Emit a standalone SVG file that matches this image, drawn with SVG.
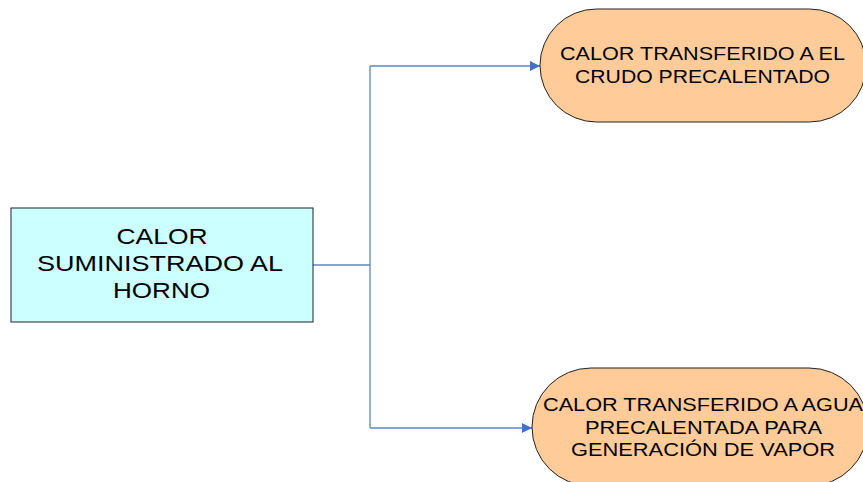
<svg xmlns="http://www.w3.org/2000/svg" width="863" height="482" viewBox="0 0 863 482">
  <style>
    .lbl { font-family: "Liberation Sans", Arial, sans-serif; fill: #000; text-anchor: middle; }
    .box { stroke: #222; stroke-width: 1; }
    .wire { fill: none; stroke: #5B84C8; stroke-width: 1.3; }
  </style>
  <defs>
    <marker id="arrow" viewBox="0 0 10 10" refX="10" refY="5" markerWidth="10" markerHeight="10" markerUnits="userSpaceOnUse" orient="auto">
      <path d="M0,0 L10,5 L0,10 Z" fill="#4472C4"/>
    </marker>
  </defs>
  <rect width="863" height="482" fill="#fff"/>

  <g id="connectors">
    <path class="wire" d="M313,265 H370"/>
    <path class="wire" d="M370,66 V428"/>
    <path class="wire" d="M370,66 H540" marker-end="url(#arrow)"/>
    <path class="wire" d="M370,428 H532" marker-end="url(#arrow)"/>
  </g>

  <g id="node-horno">
    <rect class="box" x="11" y="208" width="302" height="114" fill="#CCFFFF"/>
    <text class="lbl" font-size="21.5" x="162" y="244" textLength="91" lengthAdjust="spacingAndGlyphs">CALOR</text>
    <text class="lbl" font-size="21.5" x="160" y="271" textLength="246" lengthAdjust="spacingAndGlyphs">SUMINISTRADO AL</text>
    <text class="lbl" font-size="21.5" x="161.5" y="298" textLength="97" lengthAdjust="spacingAndGlyphs">HORNO</text>
  </g>

  <g id="node-crudo">
    <rect class="box" x="540" y="9" width="326" height="113" rx="56.5" ry="56.5" fill="#FFCC99"/>
    <text class="lbl" font-size="18" x="702.5" y="60" textLength="285" lengthAdjust="spacingAndGlyphs">CALOR TRANSFERIDO A EL</text>
    <text class="lbl" font-size="18" x="702.5" y="83" textLength="255" lengthAdjust="spacingAndGlyphs">CRUDO PRECALENTADO</text>
  </g>

  <g id="node-agua">
    <rect class="box" x="532" y="368" width="336" height="118" rx="59" ry="59" fill="#FFCC99"/>
    <text class="lbl" font-size="18" x="703" y="411" textLength="320" lengthAdjust="spacingAndGlyphs">CALOR TRANSFERIDO A AGUA</text>
    <text class="lbl" font-size="18" x="703.5" y="433.5" textLength="237" lengthAdjust="spacingAndGlyphs">PRECALENTADA PARA</text>
    <text class="lbl" font-size="18" x="703" y="456" textLength="264" lengthAdjust="spacingAndGlyphs">GENERACIÓN DE VAPOR</text>
  </g>
</svg>
